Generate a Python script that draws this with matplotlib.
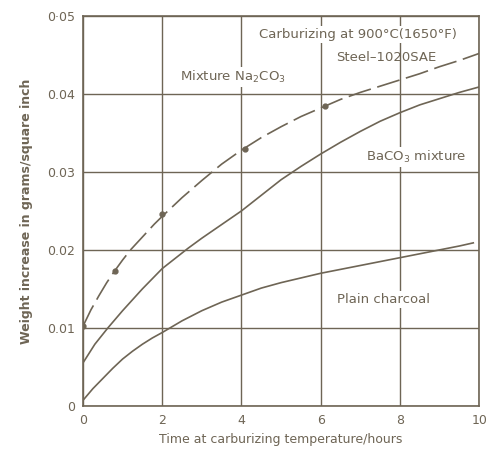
import matplotlib
matplotlib.use("Agg")
import matplotlib.pyplot as plt

# data (hours, g/sq inch)
na_hours = [0, 0.2, 0.4, 0.6, 0.8, 1.0, 1.2, 1.4, 1.6, 1.8, 2, 2.5, 3, 3.5, 4,
            4.5, 5, 5.5, 6, 6.5, 7, 7.5, 8, 8.5, 9, 9.5, 10]
na_weight = [0.0102, 0.0123, 0.0141, 0.0158, 0.0173, 0.0187, 0.0200, 0.0211,
             0.0222, 0.0233, 0.0243, 0.0267, 0.0289, 0.0310, 0.0328, 0.0344,
             0.0358, 0.0371, 0.0382, 0.0393, 0.0402, 0.0410, 0.0418, 0.0426,
             0.0435, 0.0443, 0.0452]
na_dots_hours = [0, 0.8, 2, 4.1, 6.1]
na_dots_weight = [0.0102, 0.0173, 0.0246, 0.0330, 0.0384]

ba_hours = [0, 0.3, 0.63, 1, 1.5, 2, 2.3, 2.65, 3, 3.4, 4, 4.5, 5, 5.5, 6,
            6.5, 7, 7.5, 8, 8.5, 9, 9.5, 10]
ba_weight = [0.0055, 0.0079, 0.0100, 0.0122, 0.0150, 0.0176, 0.0188, 0.0202,
             0.0215, 0.0229, 0.0250, 0.0270, 0.0290, 0.0307, 0.0323, 0.0338,
             0.0352, 0.0365, 0.0376, 0.0386, 0.0394, 0.0402, 0.0409]

pc_hours = [0, 0.1, 0.25, 0.5, 0.75, 1, 1.25, 1.5, 1.75, 2, 2.5, 3, 3.5, 4,
            4.5, 5, 5.5, 6, 6.5, 7, 7.5, 8, 8.5, 9, 9.5, 9.85]
pc_weight = [0.0007, 0.0013, 0.0022, 0.0035, 0.0048, 0.0060, 0.0070, 0.0079,
             0.0087, 0.0094, 0.0109, 0.0122, 0.0133, 0.0142, 0.0151, 0.0158,
             0.0164, 0.0170, 0.0175, 0.0180, 0.0185, 0.0190, 0.0195, 0.0200,
             0.0205, 0.0209]

x_ticks = [0, 2, 4, 6, 8, 10]
y_ticks = [0, 0.01, 0.02, 0.03, 0.04, 0.05]
y_tick_labels = ["0", "0.01", "0.02", "0.03", "0.04", "0·05"]

ink = "#6e6555"

fig = plt.figure(figsize=(4.88, 4.57), dpi=100)
ax = fig.add_axes([0.170, 0.112, 0.812, 0.853])

ax.plot(na_hours, na_weight, color=ink, lw=1.2, dashes=(14, 4))
ax.plot(na_dots_hours, na_dots_weight, "o", color=ink, ms=3.5)
ax.plot(ba_hours, ba_weight, color=ink, lw=1.2)
ax.plot(pc_hours, pc_weight, color=ink, lw=1.2)

ax.set_xlim(0, 10)
ax.set_ylim(0, 0.05)
ax.set_xticks(x_ticks)
ax.set_yticks(y_ticks)
ax.set_yticklabels(y_tick_labels)
ax.grid(True, color=ink, lw=1.0)
ax.set_axisbelow(True)
ax.tick_params(length=0, colors=ink, labelsize=9, pad=6)
for s in ax.spines.values():
    s.set_color(ink)
    s.set_linewidth(1.2)

ax.set_xlabel("Time at carburizing temperature/hours", color=ink, fontsize=9, labelpad=4)
ax.set_ylabel("Weight increase in grams/square inch", color=ink, fontsize=9, labelpad=10,
              fontweight="bold")

box = dict(facecolor="white", edgecolor="none", pad=1.5)
ax.text(4.45, 0.0476, "Carburizing at 900°C(1650°F)", color=ink, fontsize=9.5,
        va="center", bbox=box)
ax.text(6.4, 0.0447, "Steel–1020SAE", color=ink, fontsize=9.5, va="center")
ax.text(2.45, 0.0422, "Mixture Na$_2$CO$_3$", color=ink, fontsize=9.5, va="center", bbox=box)
ax.text(7.15, 0.0319, "BaCO$_3$ mixture", color=ink, fontsize=9.5, va="center", bbox=box)
ax.text(6.4, 0.0136, "Plain charcoal", color=ink, fontsize=9.5, va="center", bbox=box)

fig.savefig("out.png", dpi=100, facecolor="white")
